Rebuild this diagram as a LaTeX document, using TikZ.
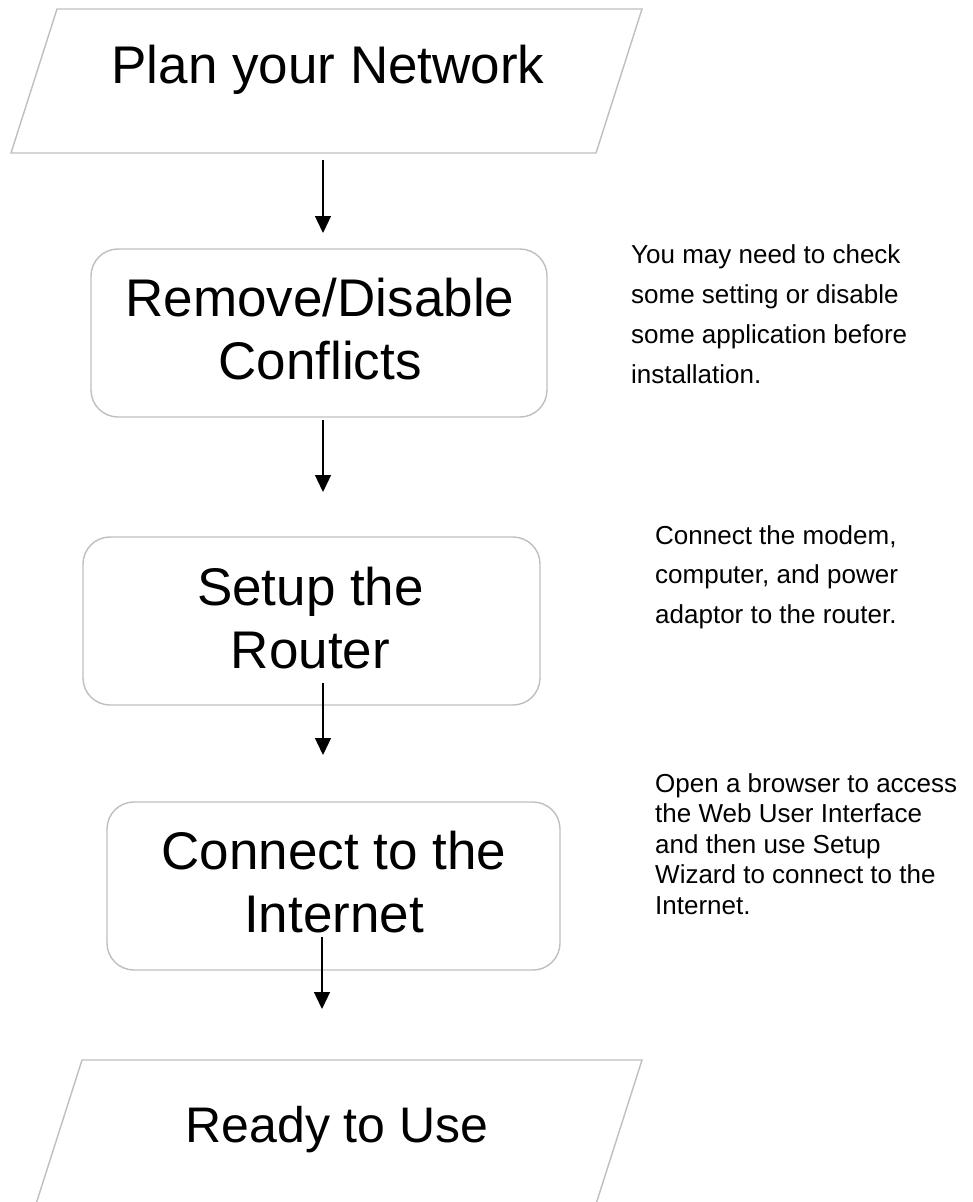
\documentclass[tikz,border=0pt]{standalone}
\usepackage{fontspec}
\setmainfont{Liberation Sans}
\usetikzlibrary{arrows.meta}
\definecolor{shapegray}{RGB}{191,191,191}
\begin{document}
\begin{tikzpicture}[x=1pt,y=-1pt,
  outline/.style={draw=shapegray, line width=1.4pt},
  stepbox/.style={outline, rounded corners=27pt, inner sep=0pt, minimum height=168pt},
  maintext/.style={inner sep=0pt, anchor=base, font=\fontsize{53}{63}\selectfont},
  sidetext/.style={inner sep=0pt, anchor=base west},
  flow/.style={-{Triangle[length=17pt,width=16pt]}, line width=1.3pt}]
\useasboundingbox (0,0) rectangle (973,1202);
\fill[white] (0,0) rectangle (973,1202);

% top parallelogram
\draw[outline] (57,9) -- (642,9) -- (596,153) -- (11,153) -- cycle;
\node[maintext] (t1) at (328,83) {Plan your Network};

% boxes
\node[stepbox, minimum width=456pt] (b2) at (319,333) {};
\node[maintext] (t2) at (320,316) {\begin{tabular}[t]{@{}c@{}}Remove/Disable\\Conflicts\end{tabular}};

\node[stepbox, minimum width=457pt] (b3) at (311.5,621) {};
\node[maintext] (t3) at (310.5,605) {\begin{tabular}[t]{@{}c@{}}Setup the\\Router\end{tabular}};

\node[stepbox, minimum width=453pt] (b4) at (333.5,886) {};
\node[maintext] (t4) at (334,869) {\begin{tabular}[t]{@{}c@{}}Connect to the\\Internet\end{tabular}};

% bottom parallelogram (cut by the page edge)
\begin{scope}
\clip (0,0) rectangle (973,1202);
\draw[outline] (82,1060) -- (642,1060) -- (594.1,1210) -- (34.1,1210) -- cycle;
\end{scope}
\node[maintext, font=\fontsize{50}{60}\selectfont] (t5) at (337,1142) {Ready to Use};

% side notes
\node[sidetext, font=\fontsize{26}{40.3}\selectfont] (n1) at (631,263)
  {\begin{tabular}[t]{@{}l@{}}You may need to check\\some setting or disable\\some application before\\installation.\end{tabular}};
\node[sidetext, font=\fontsize{26}{39.5}\selectfont] (n2) at (655,544)
  {\begin{tabular}[t]{@{}l@{}}Connect the modem,\\computer, and power\\adaptor to the router.\end{tabular}};
\node[sidetext, font=\fontsize{26}{30.6}\selectfont] (n3) at (655,792)
  {\begin{tabular}[t]{@{}l@{}}Open a browser to access\\the Web User Interface\\and then use Setup\\Wizard to connect to the\\Internet.\end{tabular}};

% connectors
\coordinate (a1s) at (323,160);  \coordinate (a1e) at (323,233);
\coordinate (a2s) at (323,420);  \coordinate (a2e) at (323,492);
\coordinate (a3s) at (323,683);  \coordinate (a3e) at (323,755);
\coordinate (a4s) at (322,937);  \coordinate (a4e) at (322,1009);
\draw[flow] (a1s) -- (a1e);
\draw[flow] (a2s) -- (a2e);
\draw[flow] (a3s) -- (a3e);
\draw[flow] (a4s) -- (a4e);
\end{tikzpicture}
\end{document}
